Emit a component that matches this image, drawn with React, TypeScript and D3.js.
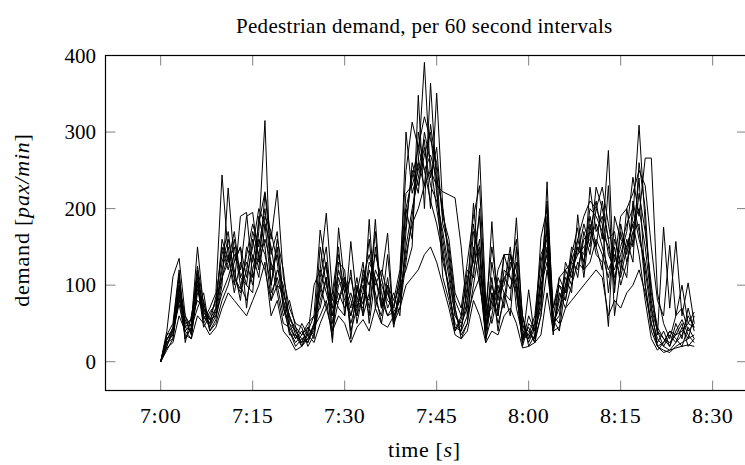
import * as d3 from 'd3'

// chart text
const title = 'Pedestrian demand, per 60 second intervals'
const xTickMinutes = [0, 15, 30, 45, 60, 75, 90]
const xTickLabels = ['7:00', '7:15', '7:30', '7:45', '8:00', '8:15', '8:30']
const yTicks = [0, 100, 200, 300, 400]

// demand per minute (pax/min), one array per simulation run, starting at 7:00
const run01 = [
  0, 40, 111, 135, 60, 35, 95, 60, 45, 70,
  120, 150, 110, 95, 140, 180, 150, 200, 120, 140,
  90, 60, 40, 30, 35, 45, 120, 90, 60, 110,
  80, 60, 95, 75, 130, 110, 70, 90, 60, 80,
  150, 200, 240, 280, 230, 210, 170, 120, 60, 45,
  80, 140, 190, 60, 100, 70, 110, 95, 130, 40,
  35, 30, 90, 150, 50, 70, 100, 120, 140, 150,
  160, 180, 150, 120, 140, 110, 150, 180, 200, 150,
  80, 40, 30, 25, 35, 40, 50, 45,
]
const run02 = [
  0, 25, 35, 90, 40, 50, 150, 70, 55, 60,
  110, 130, 150, 100, 80, 120, 160, 140, 100, 150,
  70, 50, 30, 40, 25, 50, 90, 130, 50, 100,
  110, 40, 70, 100, 60, 150, 90, 60, 75, 100,
  180, 250, 220, 300, 260, 200, 150, 90, 50, 40,
  60, 120, 160, 40, 80, 100, 70, 130, 110, 30,
  45, 25, 60, 180, 40, 90, 80, 140, 110, 170,
  140, 200, 180, 90, 160, 130, 110, 210, 170, 120,
  60, 30, 20, 35, 25, 45, 30, 60,
]
const run03 = [
  0, 20, 45, 110, 30, 45, 110, 55, 70, 90,
  244, 140, 90, 130, 100, 90, 190, 150, 80, 120,
  100, 40, 25, 35, 45, 30, 100, 70, 90, 150,
  60, 120, 50, 90, 160, 80, 60, 110, 50, 70,
  130, 190, 260, 230, 310, 250, 130, 100, 40, 55,
  90, 207, 110, 30, 60, 110, 90, 80, 188, 50,
  25, 45, 100, 130, 60, 50, 120, 100, 160, 130,
  190, 150, 210, 160, 100, 170, 130, 160, 240, 100,
  50, 25, 40, 20, 50, 30, 70, 40,
]
const run04 = [
  0, 30, 40, 80, 55, 35, 90, 80, 40, 55,
  100, 227, 130, 150, 70, 140, 110, 180, 150, 100,
  60, 80, 45, 20, 40, 60, 70, 110, 40, 80,
  100, 70, 110, 60, 90, 170, 70, 140, 55, 90,
  200, 160, 300, 250, 270, 240, 200, 140, 70, 35,
  50, 150, 100, 50, 183, 60, 120, 110, 90, 25,
  60, 40, 70, 235, 45, 80, 110, 90, 192, 120,
  228, 170, 190, 140, 120, 150, 180, 200, 160, 130,
  70, 20, 25, 40, 30, 20, 45, 30,
]
const run05 = [
  0, 35, 50, 120, 25, 60, 100, 45, 60, 80,
  150, 120, 160, 110, 130, 100, 170, 315, 90, 110,
  80, 35, 35, 25, 30, 40, 150, 100, 70, 120,
  90, 50, 80, 110, 70, 120, 100, 80, 70, 110,
  220, 230, 260, 391, 240, 280, 180, 150, 80, 60,
  110, 130, 270, 80, 50, 90, 100, 150, 70, 35,
  30, 50, 130, 170, 70, 100, 90, 130, 120, 160,
  170, 210, 160, 276, 90, 180, 140, 190, 309, 180,
  90, 45, 30, 20, 40, 55, 35, 25,
]
const run06 = [
  0, 15, 30, 100, 45, 40, 120, 60, 50, 65,
  130, 160, 120, 80, 150, 130, 180, 222, 160, 224,
  110, 70, 50, 45, 20, 35, 110, 150, 60, 90,
  70, 90, 60, 120, 100, 140, 110, 70, 90, 60,
  170, 260, 230, 270, 300, 220, 160, 110, 60, 50,
  70, 170, 140, 40, 90, 50, 80, 140, 120, 60,
  20, 35, 80, 190, 50, 60, 130, 110, 150, 140,
  200, 190, 170, 150, 110, 140, 170, 241, 190, 266,
  266, 90, 50, 30, 60, 70, 40, 50,
]
const run07 = [
  0, 30, 35, 95, 50, 55, 80, 70, 45, 60,
  90, 110, 140, 120, 190, 195, 130, 160, 130, 90,
  50, 45, 30, 50, 35, 100, 120, 194, 90, 70,
  60, 157, 80, 70, 120, 90, 50, 100, 80, 120,
  250, 313, 280, 250, 210, 180, 140, 90, 45, 40,
  100, 180, 120, 60, 70, 120, 140, 140, 100, 45,
  40, 25, 110, 140, 35, 110, 90, 150, 140, 180,
  150, 228, 200, 160, 170, 120, 200, 150, 220, 170,
  100, 35, 176, 70, 157, 60, 103, 50,
]
const run08 = [
  0, 20, 40, 75, 35, 30, 105, 50, 65, 75,
  110, 140, 100, 190, 195, 110, 140, 190, 170, 130,
  70, 40, 20, 30, 25, 45, 60, 80, 30, 175,
  100, 60, 90, 130, 50, 110, 80, 60, 65, 80,
  140, 180, 200, 230, 250, 230, 222, 218, 214, 150,
  60, 90, 110, 35, 130, 80, 140, 140, 90, 30,
  35, 60, 140, 160, 40, 90, 70, 100, 130, 120,
  130, 160, 140, 110, 150, 100, 130, 170, 180, 100,
  40, 20, 15, 12, 20, 25, 30, 35,
]
const run09 = [
  0, 25, 30, 85, 30, 45, 70, 90, 40, 50,
  80, 100, 130, 150, 110, 150, 200, 180, 100, 160,
  120, 50, 40, 25, 45, 35, 80, 110, 25, 130,
  120, 30, 100, 60, 186, 70, 110, 168, 50, 100,
  120, 150, 348, 200, 364, 230, 110, 80, 40, 60,
  120, 110, 200, 45, 110, 40, 90, 60, 150, 25,
  94, 30, 60, 120, 55, 40, 100, 140, 175, 110,
  180, 140, 130, 46, 190, 160, 150, 180, 140, 80,
  30, 15, 25, 40, 35, 50, 20, 30,
]
const run10 = [
  0, 35, 40, 100, 60, 45, 115, 65, 50, 85,
  140, 170, 110, 90, 120, 170, 140, 120, 80, 100,
  90, 60, 35, 20, 30, 50, 100, 130, 70, 80,
  110, 80, 60, 90, 80, 186, 70, 100, 45, 90,
  300, 220, 250, 290, 200, 351, 200, 130, 70, 30,
  50, 100, 150, 25, 90, 60, 140, 110, 100, 20,
  50, 40, 162, 200, 60, 100, 80, 120, 150, 130,
  170, 150, 120, 230, 60, 120, 160, 130, 260, 200,
  70, 40, 20, 15, 25, 35, 60, 45,
]
const run11 = [
  0, 18, 25, 60, 40, 30, 60, 50, 35, 45,
  70, 90, 80, 70, 60, 80, 100, 130, 60, 80,
  40, 30, 15, 20, 35, 25, 50, 70, 40, 60,
  50, 25, 45, 55, 40, 70, 50, 45, 60, 70,
  100, 110, 120, 140, 150, 130, 100, 70, 35, 30,
  40, 80, 60, 25, 40, 35, 60, 70, 50, 18,
  20, 25, 35, 90, 40, 45, 70, 80, 90, 100,
  110, 120, 110, 60, 80, 70, 90, 100, 120, 90,
  50, 20, 12, 15, 18, 20, 22, 20,
]
const run12 = [
  0, 28, 45, 115, 45, 55, 125, 75, 55, 70,
  160, 130, 170, 110, 100, 160, 120, 220, 140, 170,
  80, 55, 45, 35, 50, 60, 172, 120, 80, 140,
  90, 110, 70, 110, 140, 100, 120, 90, 70, 110,
  200, 240, 280, 320, 290, 260, 190, 160, 90, 70,
  130, 190, 230, 70, 150, 90, 110, 120, 160, 60,
  30, 50, 110, 210, 70, 110, 120, 130, 160, 190,
  210, 200, 228, 180, 130, 190, 200, 220, 250, 230,
  150, 80, 60, 152, 60, 100, 50, 65,
]

const runs = [run01, run02, run03, run04, run05, run06, run07, run08, run09, run10, run11, run12]

const W = 745
const H = 465
const serif = '"Liberation Serif", "Times New Roman", serif'

export default function App() {
  const left = 105.5
  const right = 747
  const top = 55.5
  const bottom = 390.5
  const tickLen = 10

  const x = d3.scaleLinear().domain([-9, 95.6]).range([left, right])
  const y = d3.scaleLinear().domain([-37.6, 400]).range([bottom, top])

  const line = d3
    .line<number>()
    .x((_, i) => x(i))
    .y((d) => y(d))

  return (
    <svg
      width={W}
      height={H}
      style={{ position: 'absolute', left: 0, top: 0, background: '#fff' }}
      fontFamily={serif}
    >
      <defs>
        <clipPath id="plotClip">
          <rect x={left} y={top} width={right - left} height={bottom - top} />
        </clipPath>
      </defs>

      <text x={(left + right) / 2 - 2} y={33} textAnchor="middle" fontSize={21} letterSpacing={0.3}>
        {title}
      </text>

      {/* ticks, drawn inward on all four sides */}
      <g stroke="#808080" strokeWidth={1}>
        {xTickMinutes.map((m) => (
          <g key={'xt' + m}>
            <line x1={x(m)} x2={x(m)} y1={bottom} y2={bottom - tickLen} />
            <line x1={x(m)} x2={x(m)} y1={top} y2={top + tickLen} />
          </g>
        ))}
        {yTicks.map((v) => (
          <g key={'yt' + v}>
            <line x1={left} x2={left + tickLen} y1={y(v)} y2={y(v)} />
            <line x1={right} x2={right - tickLen} y1={y(v)} y2={y(v)} />
          </g>
        ))}
      </g>

      <g clipPath="url(#plotClip)" fill="none" stroke="#000" strokeWidth={1} strokeLinejoin="miter">
        {runs.map((r, i) => (
          <path key={i} d={line(r) ?? ''} />
        ))}
      </g>

      <rect
        x={left}
        y={top}
        width={right - left}
        height={bottom - top}
        fill="none"
        stroke="#000"
        strokeWidth={1.2}
      />

      {xTickMinutes.map((m, i) => (
        <text key={'xl' + m} x={x(m)} y={423} textAnchor="middle" fontSize={22} letterSpacing={0.6}>
          {xTickLabels[i]}
        </text>
      ))}
      {yTicks.map((v) => (
        <text key={'yl' + v} x={96} y={y(v) + 7} textAnchor="end" fontSize={21}>
          {v}
        </text>
      ))}

      <text x={(left + right) / 2 - 2} y={457} textAnchor="middle" fontSize={22} letterSpacing={0.6}>
        time [<tspan fontStyle="italic">s</tspan>]
      </text>
      <text
        transform={`translate(29, ${(top + bottom) / 2 - 3}) rotate(-90)`}
        textAnchor="middle"
        fontSize={22}
        letterSpacing={0.8}
      >
        demand [<tspan fontStyle="italic">pax/min</tspan>]
      </text>
    </svg>
  )
}
